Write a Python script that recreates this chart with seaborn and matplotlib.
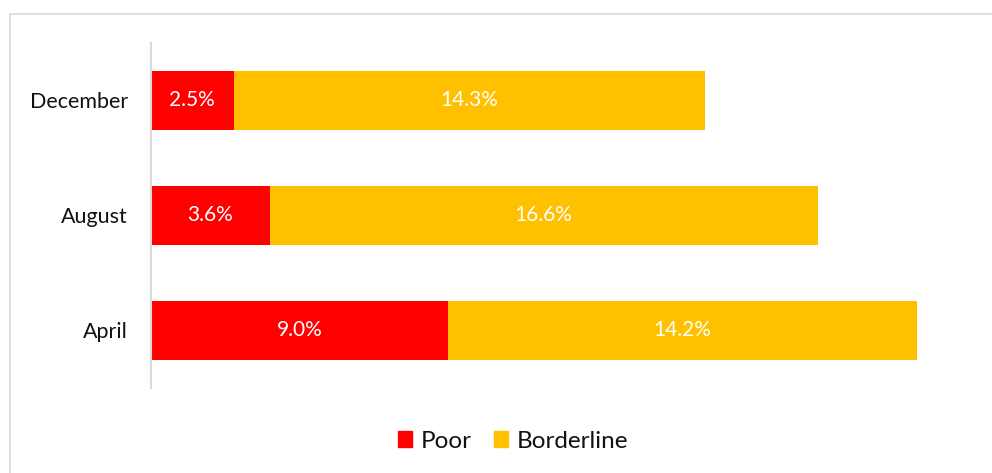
import matplotlib
matplotlib.use("Agg")
import matplotlib.pyplot as plt
import matplotlib.patches as mpatches
import seaborn as sns
import pandas as pd

months = ["December", "August", "April"]
poor = [2.5, 3.6, 9.0]
borderline = [14.3, 16.6, 14.2]

POOR_COLOR = "#FF0000"
BORDER_COLOR = "#FFC000"

sns.set_theme(style="white")
plt.rcParams["font.family"] = ["Lato", "DejaVu Sans"]

df = pd.DataFrame({"month": months, "poor": poor, "borderline": borderline})
df["total"] = df["poor"] + df["borderline"]

fig = plt.figure(figsize=(9.92, 4.73), dpi=100)
W, H = 992, 473
ax = fig.add_axes([151 / W, 1 - 388 / H, (976 - 151) / W, (388 - 43) / H])

# stacked bars: the full length in yellow, the poor share over it in red
sns.barplot(data=df, y="month", x="total", order=months, color=BORDER_COLOR,
            width=0.52, saturation=1, linewidth=0, ax=ax, orient="h")
sns.barplot(data=df, y="month", x="poor", order=months, color=POOR_COLOR,
            width=0.52, saturation=1, linewidth=0, ax=ax, orient="h")

for i, (p, b) in enumerate(zip(poor, borderline)):
    ax.text(p / 2, i, f"{p:.1f}%", color="white", ha="center", va="center", fontsize=15)
    ax.text(p + b / 2, i, f"{b:.1f}%", color="white", ha="center", va="center", fontsize=15)

ax.set_xlim(0, 25)
ax.set_ylim(2.5, -0.5)
ax.set_xlabel("")
ax.set_ylabel("")
ax.set_xticks([])
ax.tick_params(axis="y", length=0, pad=16.5, labelsize=15.5, labelcolor="#111111")
for side in ["top", "right", "bottom"]:
    ax.spines[side].set_visible(False)
ax.spines["left"].set_color("#D9D9D9")
ax.spines["left"].set_linewidth(1.5)

handles = [mpatches.Patch(color=POOR_COLOR, label="Poor"),
           mpatches.Patch(color=BORDER_COLOR, label="Borderline")]
fig.legend(handles=handles, loc="center", bbox_to_anchor=(513 / W, 1 - 441 / H),
           ncol=2, frameon=False, fontsize=17.5, handlelength=0.6, handleheight=0.6,
           handletextpad=0.35, columnspacing=0.9, labelcolor="#111111")

# chart-area frame, running off the right and bottom edges
frame = mpatches.Rectangle((9.5 / W, -0.1), 1.2, 1.1 - 14.5 / H, transform=fig.transFigure,
                           fill=False, edgecolor="#D9D9D9", linewidth=1.2)
fig.patches.append(frame)

fig.savefig("out.png", dpi=100)
